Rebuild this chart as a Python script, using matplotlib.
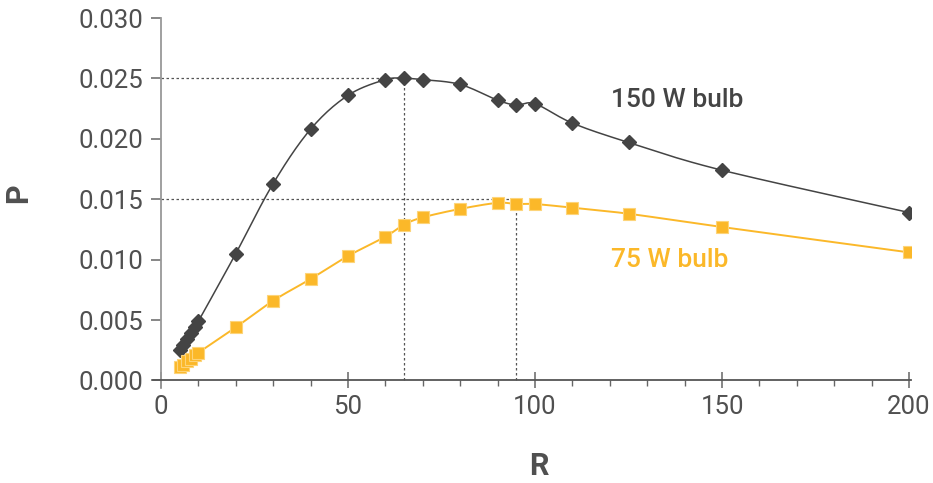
import numpy as np
import matplotlib.pyplot as plt
from matplotlib.ticker import MultipleLocator, FormatStrFormatter

plt.rcParams['font.family'] = ['Roboto', 'DejaVu Sans']

# resistance values (same for both bulbs)
R = [5, 6, 7, 8, 9, 10, 20, 30, 40, 50, 60, 65, 70, 80, 90, 95, 100, 110, 125, 150, 200]
P_150 = [0.0025, 0.0029, 0.0034, 0.0039, 0.0044, 0.0049, 0.0105, 0.0163, 0.0208, 0.0236,
         0.0249, 0.0250, 0.0249, 0.0245, 0.0232, 0.0228, 0.0229, 0.0213, 0.0197, 0.0174, 0.0139]
P_75 = [0.00115, 0.0013, 0.0016, 0.0018, 0.0021, 0.0023, 0.0044, 0.0066, 0.0084, 0.0103,
        0.0119, 0.0129, 0.0135, 0.0142, 0.0147, 0.0146, 0.0146, 0.0143, 0.0138, 0.0127, 0.0106]

DARK = '#444444'
ORANGE = '#FBB829'


def smooth(x, y, sx=3.74, sy=12060.0, n=20):
    # catmull-rom through the points, done in screen-like units (like Excel smoothing)
    px = np.asarray(x, float) * sx
    py = np.asarray(y, float) * sy
    pts = np.column_stack([px, py])
    pts = np.vstack([pts[0], pts, pts[-1]])
    out = []
    t = np.linspace(0, 1, n, endpoint=False)[:, None]
    for i in range(1, len(pts) - 2):
        p0, p1, p2, p3 = pts[i - 1], pts[i], pts[i + 1], pts[i + 2]
        seg = 0.5 * ((2 * p1) + (-p0 + p2) * t + (2 * p0 - 5 * p1 + 4 * p2 - p3) * t ** 2
                     + (-p0 + 3 * p1 - 3 * p2 + p3) * t ** 3)
        out.append(seg)
    out.append(pts[-2][None, :])
    out = np.vstack(out)
    return out[:, 0] / sx, out[:, 1] / sy


fig = plt.figure(figsize=(9.33, 4.83), dpi=100)
ax = fig.add_axes([0.1645, 0.1973, 0.8119, 0.7654])

# guide lines at the two maxima
guide = dict(color='#555555', lw=0.9, ls=(0, (2, 2)), zorder=1)
ax.plot([0, 65], [0.025, 0.025], **guide)
ax.plot([65, 65], [0, 0.025], **guide)
ax.plot([0, 95], [0.015, 0.015], **guide)
ax.plot([95, 95], [0, 0.015], **guide)

sx, sy = smooth(R, P_150)
ax.plot(sx, sy, color=DARK, lw=1.1, zorder=2)
ax.plot(R, P_150, ls='none', marker='D', ms=7.5, color=DARK, mec=DARK, zorder=3)

sx, sy = smooth(R, P_75)
ax.plot(sx, sy, color=ORANGE, lw=1.4, zorder=2)
ax.plot(R, P_75, ls='none', marker='s', ms=8, color=ORANGE, mec='#FDD479', mew=0.8, zorder=3)

ax.text(120.3, 0.0226, '150 W bulb', fontsize=19, color=DARK, fontweight='medium')
ax.text(120.3, 0.0094, '75 W bulb', fontsize=19, color=ORANGE, fontweight='medium')

ax.set_xlim(-2, 200.5)
ax.set_ylim(-0.0006, 0.030)
ax.spines['top'].set_visible(False)
ax.spines['right'].set_visible(False)
ax.spines['left'].set_position(('data', 0))
ax.spines['bottom'].set_position(('data', 0))
ax.spines['left'].set_color('#999999')
ax.spines['bottom'].set_color('#555555')
ax.spines['left'].set_linewidth(1.3)
ax.spines['bottom'].set_linewidth(1.3)

ax.xaxis.set_major_locator(MultipleLocator(50))
ax.xaxis.set_minor_locator(MultipleLocator(10))
ax.yaxis.set_major_locator(MultipleLocator(0.005))
ax.yaxis.set_major_formatter(FormatStrFormatter('%.3f'))

ax.tick_params(axis='x', which='major', direction='inout', length=11, width=1.1,
               color='#666666', labelsize=18.5, labelcolor='#505050', pad=5)
ax.tick_params(axis='x', which='minor', direction='out', length=4, width=1.0, color='#666666')
ax.tick_params(axis='y', which='major', direction='out', length=7, width=1.1,
               color='#666666', labelsize=18.5, labelcolor='#505050', pad=6)

ax.set_xlabel('R', fontsize=22, fontweight='bold', color='#505050')
ax.set_ylabel('P', fontsize=22, fontweight='bold', color='#505050')
ax.xaxis.set_label_coords((101 + 2) / 202.5, -0.17)
ax.yaxis.set_label_coords(-0.159, (0.0155 + 0.0006) / 0.0306)

fig.savefig('out.png', dpi=100)
